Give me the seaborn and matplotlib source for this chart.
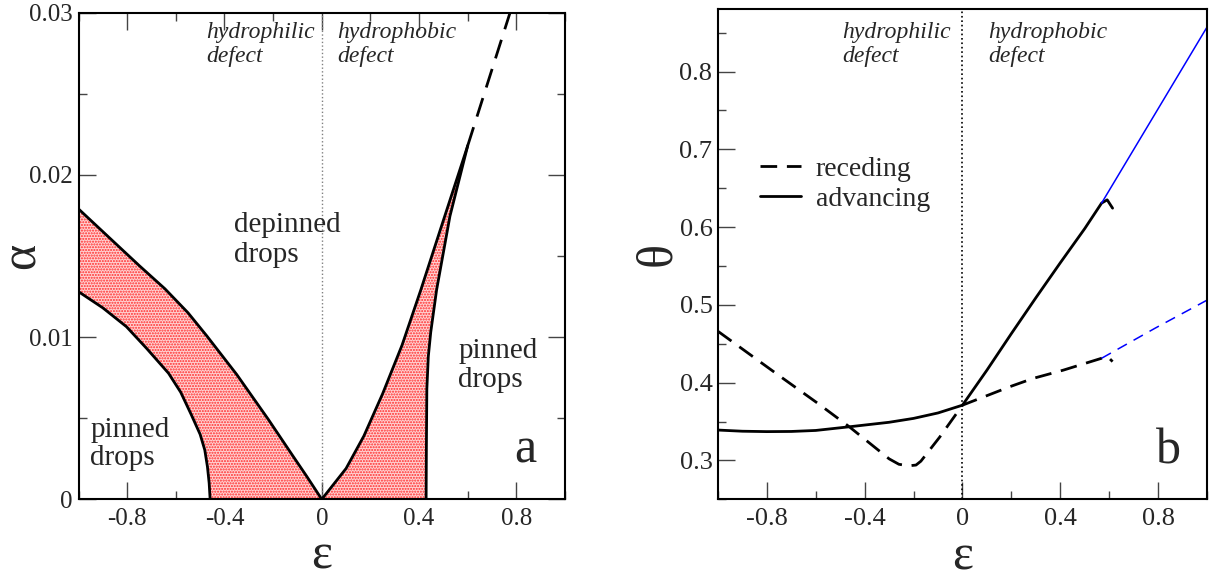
import numpy as np
import pandas as pd
import matplotlib
matplotlib.use("Agg")
import matplotlib.pyplot as plt
from matplotlib.ticker import MultipleLocator
from matplotlib.lines import Line2D
import seaborn as sns

# ---- panel a: boundaries in the (eps, alpha) plane ----
outer_left_eps = [-1.0, -0.9, -0.803, -0.72, -0.63, -0.58, -0.536, -0.5, -0.481, -0.47, -0.463, -0.459]
outer_left_alpha = [0.0128, 0.0118, 0.01064, 0.0093, 0.00777, 0.0066, 0.0052, 0.0040, 0.00304,
                    0.0020, 0.0010, 0.0]

inner_left_eps = [-1.0, -0.85, -0.75, -0.645, -0.55, -0.472, -0.35, -0.22, -0.12, -0.063, 0.0]
inner_left_alpha = [0.0179, 0.0158, 0.0144, 0.01298, 0.0115, 0.01006, 0.0077, 0.00493, 0.0027,
                    0.00144, 0.0]

inner_right_eps = [0.0, 0.1, 0.173, 0.25, 0.33, 0.407, 0.487, 0.6]
inner_right_alpha = [0.0, 0.0019, 0.0039, 0.0065, 0.0095, 0.0129, 0.0166, 0.0218]

outer_right_eps = [0.429, 0.430, 0.432, 0.438, 0.448, 0.472, 0.527, 0.6]
outer_right_alpha = [0.0, 0.003, 0.0068, 0.0088, 0.0103, 0.0129, 0.01746, 0.0218]

cont_eps = [0.6, 0.774]
cont_alpha = [0.0218, 0.030]

# ---- panel b: contact angles ----
adv_eps = [-1.0, -0.9, -0.8, -0.7, -0.6, -0.46, -0.3, -0.2, -0.1, 0.0,
           0.1, 0.2, 0.3, 0.4, 0.5, 0.569, 0.592, 0.614]
adv_theta = [0.339, 0.3375, 0.337, 0.3372, 0.3385, 0.3433, 0.349, 0.354, 0.361, 0.371,
             0.416, 0.463, 0.509, 0.554, 0.598, 0.6308, 0.635, 0.6243]

rec_eps = [-1.0, -0.75, -0.59, -0.462, -0.3, -0.26, -0.22, -0.19, -0.17, -0.093, 0.0,
           0.196, 0.290, 0.412, 0.569, 0.592, 0.614]
rec_theta = [0.466, 0.409, 0.373, 0.343, 0.302, 0.295, 0.293, 0.294, 0.299, 0.330, 0.371,
             0.395, 0.4055, 0.416, 0.4313, 0.434, 0.427]

adv_blue_eps = [0.569, 0.8, 1.0]
adv_blue_theta = [0.6308, 0.752, 0.857]

rec_blue_eps = [0.569, 0.788, 1.0]
rec_blue_theta = [0.4313, 0.470, 0.506]

eps_ticks = [-0.8, -0.4, 0, 0.4, 0.8]
eps_labels = ["-0.8", "-0.4", "0", "0.4", "0.8"]
alpha_ticks = [0, 0.01, 0.02, 0.03]
alpha_labels = ["0", "0.01", "0.02", "0.03"]
theta_ticks = [0.3, 0.4, 0.5, 0.6, 0.7, 0.8]
theta_labels = ["0.3", "0.4", "0.5", "0.6", "0.7", "0.8"]

sns.set_theme(style="ticks")
plt.rcParams['font.family'] = ['Liberation Serif', 'DejaVu Serif']
plt.rcParams['hatch.linewidth'] = 1.0

fig = plt.figure(figsize=(12.14, 5.78), dpi=100)
ax1 = fig.add_axes([0.0647, 0.1362, 0.4007, 0.8418])
ax2 = fig.add_axes([0.5914, 0.1362, 0.4028, 0.8477])


def curve(ax, xs, ys, **kw):
    df = pd.DataFrame({"x": xs, "y": ys})
    sns.lineplot(data=df, x="x", y="y", sort=False, estimator=None, ax=ax, **kw)


def lines(ax, x, y0, dy, words, **kw):
    # one call per line so the first baseline sits where it is in the figure
    for i, w in enumerate(words):
        ax.text(x, y0 - i * dy, w, transform=ax.transAxes, va='baseline', **kw)


# shaded regions
left_x = np.concatenate([inner_left_eps, outer_left_eps[::-1]])
left_y = np.concatenate([inner_left_alpha, outer_left_alpha[::-1]])
right_x = np.concatenate([inner_right_eps, outer_right_eps[::-1]])
right_y = np.concatenate([inner_right_alpha, outer_right_alpha[::-1]])
for px, py in [(left_x, left_y), (right_x, right_y)]:
    ax1.fill(px, py, facecolor='#ffd2d2', edgecolor='#ff2a2a', hatch='......', linewidth=0)

ax1.axvline(0, color='gray', ls=':', lw=1)
for xs, ys in [(outer_left_eps, outer_left_alpha), (inner_left_eps, inner_left_alpha),
               (inner_right_eps, inner_right_alpha), (outer_right_eps, outer_right_alpha)]:
    curve(ax1, xs, ys, color='black', lw=2)
curve(ax1, cont_eps, cont_alpha, color='black', lw=2, dashes=(7, 4))

ax1.set_xlim(-1, 1)
ax1.set_ylim(0, 0.03)
ax1.set_xticks(eps_ticks, eps_labels)
ax1.set_yticks(alpha_ticks, alpha_labels)
ax1.xaxis.set_minor_locator(MultipleLocator(0.2))
ax1.yaxis.set_minor_locator(MultipleLocator(0.005))
ax1.tick_params(which='both', direction='in', top=True, right=True, width=1, color='#444444')
ax1.tick_params(which='major', length=12, labelsize=18)
ax1.tick_params(axis='x', which='major', pad=6)
ax1.tick_params(axis='y', which='major', pad=4)
ax1.tick_params(which='minor', length=6)
ax1.set_xlabel('ε', fontsize=36)
ax1.set_ylabel('α', fontsize=36)
ax1.xaxis.set_label_coords(0.5, -0.07)
ax1.yaxis.set_label_coords(-0.068, 0.5)

lines(ax1, 0.262, 0.948, 0.049, ['hydrophilic', 'defect'], fontsize=17, style='italic')
lines(ax1, 0.531, 0.948, 0.049, ['hydrophobic', 'defect'], fontsize=17, style='italic')
lines(ax1, 0.320, 0.549, 0.062, ['depinned', 'drops'], fontsize=21)
lines(ax1, 0.024, 0.128, 0.058, ['pinned', 'drops'], fontsize=21)
lines(ax1, 0.781, 0.290, 0.059, ['pinned', 'drops'], fontsize=21)
ax1.text(0.942, 0.075, 'a', transform=ax1.transAxes, fontsize=36, ha='right', va='baseline')

# panel b
ax2.axvline(0, color='black', ls=':', lw=1.2)
curve(ax2, adv_eps, adv_theta, color='black', lw=2)
curve(ax2, rec_eps, rec_theta, color='black', lw=2, dashes=(6, 3.5))
curve(ax2, adv_blue_eps, adv_blue_theta, color='#0000ff', lw=1.1)
curve(ax2, rec_blue_eps, rec_blue_theta, color='#0000ff', lw=1.1, dashes=(7, 5))

ax2.set_xlim(-1, 1)
ax2.set_ylim(0.25, 0.88)
ax2.set_xticks(eps_ticks, eps_labels)
ax2.set_yticks(theta_ticks, theta_labels)
ax2.xaxis.set_minor_locator(MultipleLocator(0.2))
ax2.yaxis.set_minor_locator(MultipleLocator(0.05))
ax2.tick_params(which='both', direction='in', width=1, color='#444444')
ax2.tick_params(which='major', length=12, labelsize=19)
ax2.tick_params(axis='x', which='major', pad=6)
ax2.tick_params(axis='y', which='major', pad=4)
ax2.tick_params(which='minor', length=6)
ax2.set_xlabel('ε', fontsize=36)
ax2.set_ylabel('θ', fontsize=36)
ax2.xaxis.set_label_coords(0.5, -0.07)
ax2.yaxis.set_label_coords(-0.076, 0.5)

lines(ax2, 0.254, 0.941, 0.049, ['hydrophilic', 'defect'], fontsize=17, style='italic')
lines(ax2, 0.553, 0.941, 0.049, ['hydrophobic', 'defect'], fontsize=17, style='italic')
ax2.text(0.947, 0.074, 'b', transform=ax2.transAxes, fontsize=36, ha='right', va='baseline')

handles = [Line2D([], [], color='black', lw=2, dashes=(6, 3.5)),
           Line2D([], [], color='black', lw=2)]
ax2.legend(handles, ['receding', 'advancing'], loc='upper left', bbox_to_anchor=(0.085, 0.70),
           frameon=False, fontsize=20, handlelength=1.5, handletextpad=0.53,
           labelspacing=0.16, borderpad=0, borderaxespad=0)

for ax in (ax1, ax2):
    for s in ax.spines.values():
        s.set_linewidth(1.5)
        s.set_color('black')

fig.savefig('out.png', dpi=100)
